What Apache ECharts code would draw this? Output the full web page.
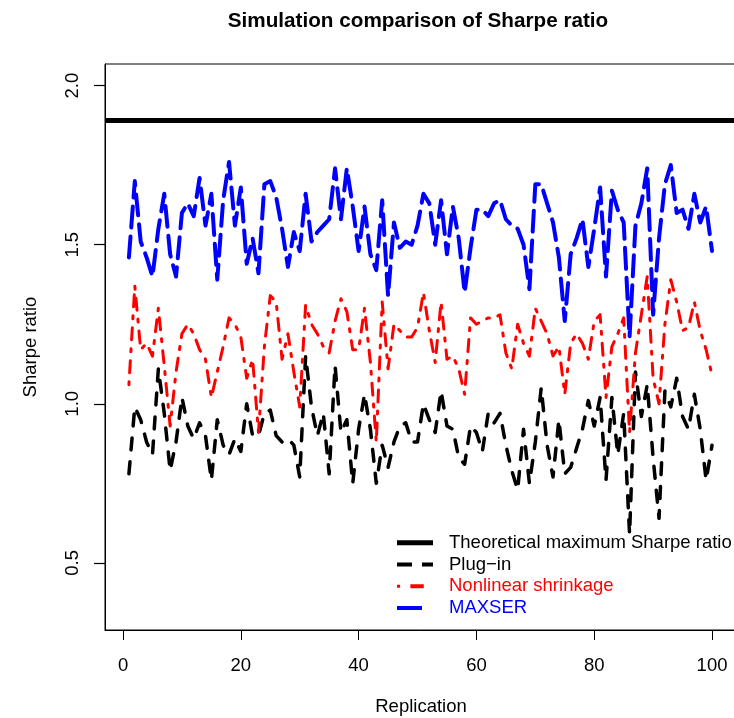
<!DOCTYPE html>
<html>
<head>
<meta charset="utf-8">
<script src="https://cdn.jsdelivr.net/npm/echarts@6/dist/echarts.min.js"></script>
<style>
  html, body { margin: 0; padding: 0; background: #fff; }
  #chart { width: 734px; height: 718px; }
</style>
</head>
<body>
<div id="chart"></div>
<script>
// ---- data ----
const replications = Array.from({ length: 100 }, (_, i) => i + 1);
const theoreticalMax = 1.885;
const plugIn = [
  0.78, 0.99, 0.95, 0.88, 0.84, 1.11, 0.97, 0.79, 0.88, 1.02,
  0.93, 0.89, 0.94, 0.90, 0.76, 0.95, 0.87, 0.84, 0.89, 0.85,
  1.00, 0.90, 0.90, 0.97, 0.98, 0.90, 0.88, 0.89, 0.87, 0.77,
  1.15, 0.99, 0.90, 0.97, 0.78, 1.12, 0.91, 0.95, 0.75, 0.92,
  1.03, 0.92, 0.75, 0.87, 0.80, 0.88, 0.93, 0.94, 0.88, 0.88,
  1.00, 0.95, 0.91, 1.04, 0.93, 0.92, 0.83, 0.81, 0.93, 0.91,
  0.85, 0.97, 0.94, 0.97, 0.87, 0.79, 0.73, 0.92, 0.75, 0.88,
  1.05, 0.87, 0.77, 0.95, 0.78, 0.80, 0.86, 0.92, 1.01, 0.93,
  1.02, 0.76, 1.02, 0.84, 0.97, 0.59, 1.10, 0.96, 1.06, 0.83,
  0.64, 1.04, 0.99, 1.08, 0.96, 0.92, 1.03, 0.92, 0.76, 0.87
];
const nonlinearShrinkage = [
  1.06, 1.37, 1.17, 1.19, 1.15, 1.30, 1.12, 0.93, 1.10, 1.22,
  1.25, 1.22, 1.17, 1.14, 1.02, 1.10, 1.18, 1.27, 1.25, 1.21,
  1.08, 1.14, 0.91, 1.18, 1.34, 1.32, 1.14, 1.22, 1.10, 0.99,
  1.31, 1.25, 1.22, 1.18, 1.16, 1.26, 1.33, 1.29, 1.17, 1.17,
  1.30, 1.13, 0.88, 1.32, 1.11, 1.25, 1.23, 1.21, 1.21, 1.24,
  1.35, 1.23, 1.13, 1.32, 1.14, 1.15, 1.11, 1.03, 1.27, 1.25,
  1.26, 1.27, 1.27, 1.28, 1.16, 1.11, 1.25, 1.19, 1.15, 1.30,
  1.26, 1.22, 1.15, 1.18, 1.03, 1.19, 1.22, 1.19, 1.14, 1.26,
  1.28, 1.02, 1.18, 1.22, 1.27, 0.91, 1.16, 1.28, 1.40, 1.08,
  1.00, 1.25, 1.39, 1.32, 1.23, 1.24, 1.32, 1.23, 1.17, 1.09
];
const maxser = [
  1.46, 1.70, 1.51, 1.46, 1.40, 1.55, 1.66, 1.47, 1.40, 1.60,
  1.63, 1.59, 1.71, 1.56, 1.66, 1.39, 1.64, 1.76, 1.56, 1.68,
  1.44, 1.52, 1.41, 1.69, 1.70, 1.65, 1.55, 1.43, 1.54, 1.48,
  1.66, 1.51, 1.54, 1.56, 1.58, 1.74, 1.58, 1.74, 1.62, 1.48,
  1.62, 1.47, 1.42, 1.64, 1.34, 1.57, 1.49, 1.51, 1.50, 1.56,
  1.66, 1.63, 1.50, 1.64, 1.47, 1.62, 1.52, 1.35, 1.49, 1.61,
  1.61, 1.59, 1.63, 1.64, 1.58, 1.56, 1.55, 1.50, 1.36, 1.69,
  1.69, 1.63, 1.57, 1.46, 1.26, 1.47, 1.52, 1.58, 1.43, 1.55,
  1.68, 1.40, 1.67, 1.61, 1.57, 1.21, 1.56, 1.63, 1.74, 1.28,
  1.52, 1.69, 1.75, 1.60, 1.61, 1.55, 1.66, 1.57, 1.62, 1.48
];
const xTicks = [0, 20, 40, 60, 80, 100];
const yTicks = [0.5, 1.0, 1.5, 2.0];
const seriesNames = ['Theoretical maximum Sharpe ratio', 'Plug\u2212in', 'Nonlinear shrinkage', 'MAXSER'];

// ---- chart ----
const FONT = '"Liberation Sans", Arial, sans-serif';
const FS = 18.5;
const toPairs = arr => arr.map((v, i) => [replications[i], v]);
const chart = echarts.init(document.getElementById('chart'), null, { renderer: 'canvas' });

chart.setOption({
  animation: false,
  backgroundColor: '#ffffff',
  textStyle: { fontFamily: FONT },
  title: {
    text: 'Simulation comparison of Sharpe ratio',
    left: 413,
    top: 6,
    textAlign: 'center',
    textStyle: { fontFamily: FONT, fontSize: 20.7, fontWeight: 'bold', color: '#000' }
  },
  grid: {
    left: 105, top: 64, width: 632, height: 566,
    outerBoundsMode: 'none',
    containLabel: false,
    show: true, borderColor: '#000', borderWidth: 1, backgroundColor: 'transparent'
  },
  legend: {
    orient: 'vertical',
    left: 397,
    top: 532,
    padding: 0,
    itemWidth: 36,
    itemHeight: 5,
    itemGap: 0,
    selectedMode: false,
    textStyle: { fontFamily: FONT, fontSize: FS, lineHeight: 21.7, padding: [0, 0, 0, 11] },
    data: [
      { name: seriesNames[0], icon: 'path://M0,0h36v5h-36z', textStyle: { color: '#000' } },
      { name: seriesNames[1], icon: 'path://M0,0h15v4h-15zM25,0h11v4h-11z', textStyle: { color: '#000' } },
      { name: seriesNames[2], icon: 'path://M1,0.5h3v3h-3zM14,0h13v4h-13zM35.9,1.9h0.1v0.1h-0.1z', textStyle: { color: '#ff0000' } },
      { name: seriesNames[3], icon: 'path://M0,0h25v4h-25zM35.9,1.9h0.1v0.1h-0.1z', textStyle: { color: '#0000ff' } }
    ]
  },
  xAxis: {
    type: 'value',
    min: -3.06,
    max: 104.24,
    name: 'Replication',
    nameLocation: 'middle',
    nameGap: 67,
    nameTextStyle: { fontFamily: FONT, fontSize: FS, color: '#000' },
    axisLine: { show: true, onZero: false, lineStyle: { color: '#000', width: 1 } },
    axisTick: { show: true, length: 10, customValues: xTicks, lineStyle: { color: '#000', width: 1 } },
    axisLabel: { customValues: xTicks, margin: 26, fontFamily: FONT, fontSize: FS, color: '#000' },
    splitLine: { show: false }
  },
  yAxis: {
    type: 'value',
    min: 0.289,
    max: 2.068,
    name: 'Sharpe ratio',
    nameLocation: 'middle',
    nameGap: 65,
    nameRotate: 90,
    nameTextStyle: { fontFamily: FONT, fontSize: FS, color: '#000' },
    axisLine: { show: true, onZero: false, lineStyle: { color: '#000', width: 1 } },
    axisTick: { show: true, inside: false, length: 11, customValues: yTicks, lineStyle: { color: '#000', width: 1.2 } },
    axisLabel: {
      customValues: yTicks, rotate: 90, margin: 23, fontFamily: FONT, fontSize: FS, color: '#000',
      formatter: v => v.toFixed(1)
    },
    splitLine: { show: false }
  },
  series: [
    {
      name: seriesNames[0], type: 'line', data: [], color: '#000',
      markLine: {
        silent: true, symbol: ['none', 'none'], label: { show: false },
        lineStyle: { color: '#000', width: 5, type: 'solid' },
        data: [{ yAxis: theoreticalMax }]
      }
    },
    {
      name: seriesNames[1], type: 'line', data: toPairs(plugIn), color: '#000',
      showSymbol: false, symbol: 'none',
      lineStyle: { color: '#000', width: 3.5, type: [12, 12], cap: 'round', join: 'round' }
    },
    {
      name: seriesNames[2], type: 'line', data: toPairs(nonlinearShrinkage), color: '#ff0000',
      showSymbol: false, symbol: 'none',
      lineStyle: { color: '#ff0000', width: 3, type: [3, 9, 12, 9], cap: 'round', join: 'round' }
    },
    {
      name: seriesNames[3], type: 'line', data: toPairs(maxser), color: '#0000ff',
      showSymbol: false, symbol: 'none',
      lineStyle: { color: '#0000ff', width: 4, type: [21, 9], cap: 'round', join: 'round' }
    }
  ]
});
</script>
</body>
</html>
